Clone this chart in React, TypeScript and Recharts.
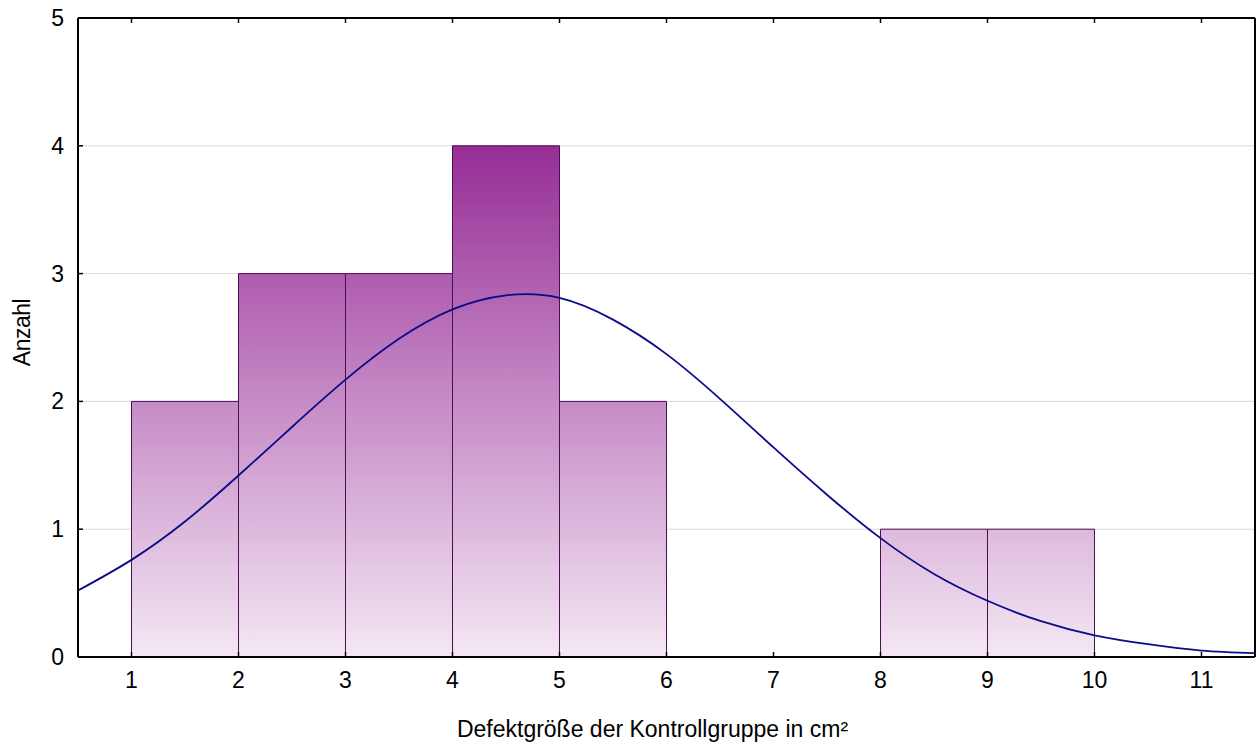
import { ComposedChart, Line, XAxis, YAxis, CartesianGrid, ReferenceArea } from 'recharts';

// histogram bins (lower edge, upper edge, count)
const binFrom = [1, 2, 3, 4, 5, 8, 9];
const binTo = [2, 3, 4, 5, 6, 9, 10];
const binCount = [2, 3, 3, 4, 2, 1, 1];

// fitted normal curve, expected count per bin
const curveX = [0.5, 1, 1.5, 2, 2.5, 3, 3.5, 4, 4.5, 5, 5.5, 6, 6.5, 7, 7.5, 8, 8.5, 9, 9.5, 10, 10.5, 11, 11.5];
const curveY = [0.52, 0.76, 1.06, 1.42, 1.8, 2.17, 2.49, 2.72, 2.83, 2.81, 2.64, 2.37, 2.02, 1.64, 1.27, 0.93, 0.65, 0.44, 0.28, 0.17, 0.1, 0.05, 0.03];

const xTicks = [1, 2, 3, 4, 5, 6, 7, 8, 9, 10, 11];
const yTicks = [0, 1, 2, 3, 4, 5];

const FONT = '"Liberation Sans", Arial, sans-serif';
const FONT_SIZE = 23;
const TICK_LEN = 5;

const curveData = curveX.map((x, i) => ({ x, y: curveY[i] }));

const BottomTick = (props: any) => {
  const { x, y, payload } = props;
  return (
    <g>
      <line x1={x} y1={y} x2={x} y2={y - TICK_LEN} stroke="#000" strokeWidth={1.5} />
      <text x={x} y={y + 31} textAnchor="middle" fontSize={FONT_SIZE} fontFamily={FONT} fill="#000">
        {payload.value}
      </text>
    </g>
  );
};

const TopTick = (props: any) => {
  const { x, y } = props;
  return <line x1={x} y1={y} x2={x} y2={y + TICK_LEN} stroke="#000" strokeWidth={1.5} />;
};

const LeftTick = (props: any) => {
  const { x, y, payload } = props;
  return (
    <g>
      <line x1={x} y1={y} x2={x + TICK_LEN} y2={y} stroke="#000" strokeWidth={1.5} />
      <text x={x - 14} y={y + 8} textAnchor="end" fontSize={FONT_SIZE} fontFamily={FONT} fill="#000">
        {payload.value}
      </text>
    </g>
  );
};

const RightTick = (props: any) => {
  const { x, y } = props;
  return <line x1={x} y1={y} x2={x - TICK_LEN} y2={y} stroke="#000" strokeWidth={1.5} />;
};

const XTitle = (props: any) => {
  const { x, y, width } = props.viewBox;
  return (
    <text x={x + width / 2 - 14} y={y + 80} textAnchor="middle" fontSize={FONT_SIZE} fontFamily={FONT} fill="#000">
      Defektgröße der Kontrollgruppe in cm²
    </text>
  );
};

const YTitle = (props: any) => {
  const { x, y, height } = props.viewBox;
  const cx = x + 30;
  const cy = y + height / 2 - 5;
  return (
    <text
      x={cx}
      y={cy}
      transform={`rotate(-90, ${cx}, ${cy})`}
      textAnchor="middle"
      fontSize={FONT_SIZE}
      fontFamily={FONT}
      letterSpacing={-0.5}
      fill="#000"
    >
      Anzahl
    </text>
  );
};

const axisLine = { stroke: '#000', strokeWidth: 2 };

export default function App() {
  return (
    <div style={{ position: 'absolute', left: 0, top: 0, width: 1260, height: 744, background: '#fff' }}>
      <ComposedChart
        width={1260}
        height={744}
        data={curveData}
        margin={{ top: 17, right: 4, bottom: 0, left: 0 }}
      >
        <defs>
          <linearGradient id="barFill" gradientUnits="userSpaceOnUse" x1="0" y1="18" x2="0" y2="657">
            <stop offset="0" stopColor="#80087f" />
            <stop offset="0.2" stopColor="#962d96" />
            <stop offset="0.6" stopColor="#c68bc6" />
            <stop offset="1" stopColor="#f4e8f4" />
          </linearGradient>
        </defs>
        <CartesianGrid xAxisId="b" yAxisId="l" vertical={false} stroke="#d9d9d9" strokeWidth={1} />
        <XAxis
          xAxisId="b"
          dataKey="x"
          type="number"
          domain={[0.5, 11.5]}
          ticks={xTicks}
          allowDataOverflow
          height={87}
          tickSize={0}
          tickMargin={0}
          tickLine={false}
          axisLine={axisLine}
          tick={BottomTick}
          interval={0}
          label={{ content: XTitle }}
        />
        <XAxis
          xAxisId="t"
          orientation="top"
          dataKey="x"
          type="number"
          domain={[0.5, 11.5]}
          ticks={xTicks}
          allowDataOverflow
          height={1}
          tickSize={0}
          tickMargin={0}
          tickLine={false}
          axisLine={axisLine}
          tick={TopTick}
          interval={0}
        />
        <YAxis
          yAxisId="l"
          type="number"
          domain={[0, 5]}
          ticks={yTicks}
          width={78}
          tickSize={0}
          tickMargin={0}
          tickLine={false}
          axisLine={axisLine}
          tick={LeftTick}
          interval={0}
          label={{ content: YTitle }}
        />
        <YAxis
          yAxisId="r"
          orientation="right"
          type="number"
          domain={[0, 5]}
          ticks={yTicks}
          width={1}
          tickSize={0}
          tickMargin={0}
          tickLine={false}
          axisLine={axisLine}
          tick={RightTick}
          interval={0}
        />
        {binFrom.map((from, i) => (
          <ReferenceArea
            key={from}
            xAxisId="b"
            yAxisId="l"
            x1={from}
            x2={binTo[i]}
            y1={0}
            y2={binCount[i]}
            fill="url(#barFill)"
            fillOpacity={1}
            stroke="#4d0d52"
            strokeWidth={1}
          />
        ))}
        <Line
          xAxisId="b"
          yAxisId="l"
          dataKey="y"
          type="natural"
          stroke="#0b0b8a"
          strokeWidth={1.8}
          dot={false}
          activeDot={false}
          isAnimationActive={false}
        />
      </ComposedChart>
    </div>
  );
}
